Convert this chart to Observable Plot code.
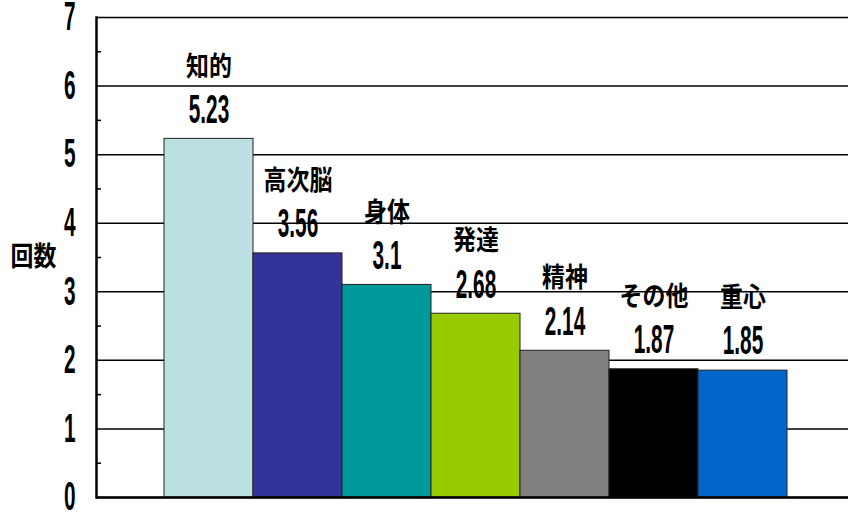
<!DOCTYPE html>
<html>
<head>
<meta charset="utf-8">
<script src="https://cdn.jsdelivr.net/npm/d3@7"></script>
<script src="https://cdn.jsdelivr.net/npm/@observablehq/plot@0.6"></script>
<style>
  body { margin: 0; background: #fff; }
</style>
</head>
<body>
<div id="chart"></div>
<script>
const categories = ["知的", "高次脳", "身体", "発達", "精神", "その他", "重心"];
const values = [5.23, 3.56, 3.1, 2.68, 2.14, 1.87, 1.85];
const valueLabels = ["5.23", "3.56", "3.1", "2.68", "2.14", "1.87", "1.85"];
const colors = ["#BDE0E3", "#333399", "#009999", "#99CC00", "#808080", "#000000", "#0066CC"];
const yTicks = [0, 1, 2, 3, 4, 5, 6, 7];
const yMinorTicks = [0.5, 1.5, 2.5, 3.5, 4.5, 5.5, 6.5];
const yLabel = "回数";

const data = categories.map((c, i) => ({cat: c, value: values[i], label: valueLabels[i], color: colors[i]}));

const numFont = "'Liberation Sans', Arial, sans-serif";
const cjkFont = "'Noto Sans CJK JP', sans-serif";

const chart = Plot.plot({
  width: 849,
  height: 514,
  marginLeft: 96,
  marginRight: 1,
  marginTop: 17,
  marginBottom: 17,
  style: {fontFamily: numFont, background: "#fff", color: "#000", overflow: "visible"},
  x: {domain: categories, range: [163, 788], paddingInner: 0, paddingOuter: 0, axis: null},
  y: {domain: [0, 7], axis: null},
  color: {domain: categories, range: colors},
  marks: [
    Plot.gridY(yTicks, {stroke: "#000", strokeOpacity: 1, strokeWidth: 1.5}),
    Plot.barY(data, {x: "cat", y: "value", fill: "cat", stroke: "#222", strokeWidth: 1}),
    Plot.axisY({ticks: yTicks, tickFormat: d3.format("d"), tickSize: 0, tickPadding: 21, fontSize: 40, fontWeight: "bold", label: null, fill: "#000"}),
    Plot.axisY({ticks: yMinorTicks, tickSize: -5, tickFormat: () => "", label: null, strokeWidth: 1.5, stroke: "#000"}),
    Plot.ruleY([0], {stroke: "#000", strokeWidth: 2.5}),
    Plot.frame({anchor: "left", stroke: "#000", strokeWidth: 2.5}),
    Plot.text(data, {x: "cat", y: "value", text: "label", dy: -29, fontSize: 40, fontWeight: "bold", fontFamily: numFont, fill: "#000", lineAnchor: "middle"}),
    Plot.text(data, {x: "cat", y: "value", text: "cat", dy: -72, fontSize: 27, fontWeight: "bold", fontFamily: cjkFont, fill: "#000", lineAnchor: "middle"}),
    Plot.text([yLabel], {frameAnchor: "left", dx: -86, fontSize: 27, fontWeight: "bold", fontFamily: cjkFont, fill: "#000", lineAnchor: "middle"})
  ]
});

// condense the labels to mimic the narrow bold font of the original
function condense(el, s) {
  const tr = el.getAttribute("transform");
  if (tr) {
    el.setAttribute("transform", tr + ` scale(${s},1)`);
  } else {
    const x = +(el.getAttribute("x") || 0);
    el.setAttribute("transform", `translate(${x},0) scale(${s},1) translate(${-x},0)`);
  }
}
d3.select(chart).selectAll("text").each(function() {
  const t = this.textContent;
  if (/^[\d.]+$/.test(t)) condense(this, 0.52);
  else if (t.length) condense(this, 0.85);
});

document.getElementById("chart").appendChild(chart);
</script>
</body>
</html>
